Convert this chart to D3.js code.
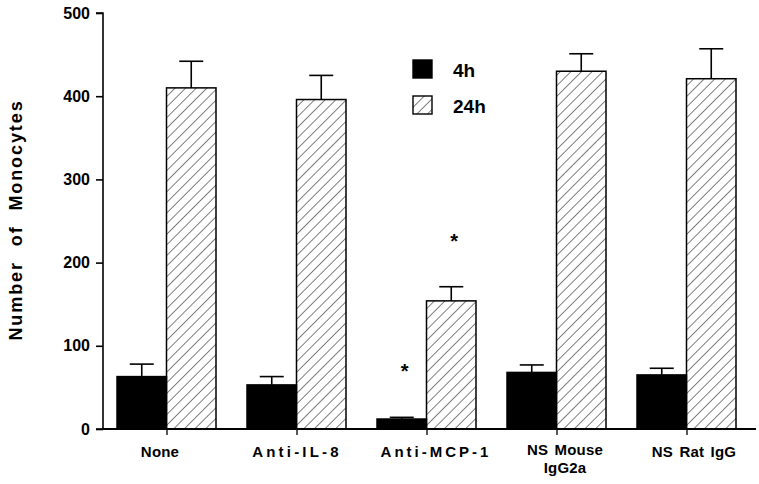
<!DOCTYPE html>
<html>
<head>
<meta charset="utf-8">
<script src="https://cdn.jsdelivr.net/npm/d3@7"></script>
<style>
  body { margin: 0; background: #fff; }
  text { font-family: "Liberation Sans", Arial, sans-serif; font-weight: bold; fill: #000; }
</style>
</head>
<body>
<svg id="chart" width="759" height="484"></svg>
<script>
// values
const groups = ['None', 'Anti-IL-8', 'Anti-MCP-1', 'NS Mouse|IgG2a', 'NS Rat IgG'];
const series = ['4h', '24h'];
const means4h = [63, 53, 12, 68, 65];
const errs4h = [15, 10, 2, 9, 8];
const means24h = [410, 396, 154, 430, 421];
const errs24h = [32, 29, 17, 21, 36];
const starred = [[2, '4h'], [2, '24h']];
const yTicks = [0, 100, 200, 300, 400, 500];

// layout only: the labels sit a little off the tick in the original
const labelNudge = [-7, 0, 9, 8, 7];

const svg = d3.select('#chart');
const m = {left: 103, top: 13, bottom: 429};

const y = d3.scaleLinear().domain([0, 500]).range([m.bottom, m.top]);
const x = d3.scaleBand().domain(groups).range([102, 752]);
// black bar left of the group tick, hatched bar right of it
const inner = d3.scaleBand().domain(series).range([-50, 49]);

const mid = g => x(g) + x.bandwidth() / 2;

const defs = svg.append('defs');
defs.append('pattern')
    .attr('id', 'hatch')
    .attr('patternUnits', 'userSpaceOnUse')
    .attr('width', 7.5).attr('height', 7.5)
    .attr('patternTransform', 'rotate(45)')
  .append('line')
    .attr('x1', 0).attr('y1', 0).attr('x2', 0).attr('y2', 7.5)
    .attr('stroke', '#000').attr('stroke-width', 1);

const rows = groups.map((g, i) => ({
    g, i,
    vals: [
        {s: '4h', v: means4h[i], e: errs4h[i]},
        {s: '24h', v: means24h[i], e: errs24h[i]}
    ]
}));

const gs = svg.append('g').selectAll('g')
    .data(rows)
    .enter().append('g')
    .attr('transform', d => `translate(${mid(d.g)},0)`);

const bars = gs.selectAll('g.bar')
    .data(d => d.vals)
    .enter().append('g').attr('class', 'bar');

const cx = d => inner(d.s) + inner.bandwidth() / 2;

// upper error bars
bars.append('line')
    .attr('x1', cx).attr('x2', cx)
    .attr('y1', d => y(d.v))
    .attr('y2', d => y(d.v + d.e))
    .attr('stroke', '#000').attr('stroke-width', 1.6);
bars.append('line')
    .attr('x1', d => cx(d) - 12)
    .attr('x2', d => cx(d) + 12)
    .attr('y1', d => y(d.v + d.e))
    .attr('y2', d => y(d.v + d.e))
    .attr('stroke', '#000').attr('stroke-width', 1.6);

bars.append('rect')
    .attr('x', d => inner(d.s))
    .attr('width', inner.bandwidth())
    .attr('y', d => y(d.v))
    .attr('height', d => y(0) - y(d.v))
    .attr('fill', d => d.s === '4h' ? '#000' : 'url(#hatch)')
    .attr('stroke', '#000').attr('stroke-width', 1.5);

// significance stars
svg.append('g').selectAll('text')
    .data(starred)
    .enter().append('text')
    .attr('x', d => mid(groups[d[0]]) + inner(d[1]) + inner.bandwidth() / 2 + 3)
    .attr('y', d => {
        const v = d[1] === '4h' ? means4h[d[0]] + errs4h[d[0]] : means24h[d[0]] + errs24h[d[0]];
        return y(v) - 39;
    })
    .attr('text-anchor', 'middle')
    .attr('font-size', 20)
    .text('*');

// y axis
const yAxis = svg.append('g')
    .attr('transform', `translate(${m.left},0)`)
    .call(d3.axisLeft(y).tickValues(yTicks).tickSize(7).tickPadding(6));
yAxis.select('.domain').attr('stroke-width', 1.6).attr('d', `M-7,${y(500)}H0V${y(0)}H-7`);
yAxis.selectAll('.tick line').attr('stroke-width', 1.6);
yAxis.selectAll('.tick text')
    .attr('font-size', 16)
    .attr('font-family', '"Liberation Sans", Arial, sans-serif')
    .attr('font-weight', 'bold');

// x axis line
svg.append('line')
    .attr('x1', m.left).attr('x2', 756)
    .attr('y1', y(0)).attr('y2', y(0))
    .attr('stroke', '#000').attr('stroke-width', 1.8);

// small ticks at each group
svg.append('g').selectAll('line')
    .data(groups)
    .enter().append('line')
    .attr('x1', mid).attr('x2', mid)
    .attr('y1', y(0)).attr('y2', y(0) + 6)
    .attr('stroke', '#000').attr('stroke-width', 1.3);

// x labels
const spaced = {'Anti-IL-8': 3.2, 'Anti-MCP-1': 3};
svg.append('g').selectAll('text')
    .data(groups)
    .enter().append('text')
    .attr('y', g => g.includes('|') ? 455 : 457)
    .attr('text-anchor', 'middle')
    .attr('font-size', 15)
    .attr('letter-spacing', g => spaced[g] || 0.2)
    .attr('word-spacing', 2)
    .each(function(g, i) {
        d3.select(this).selectAll('tspan')
            .data(g.split('|'))
            .enter().append('tspan')
            .attr('x', mid(g) + labelNudge[i])
            .attr('dy', (p, j) => j ? 18 : 0)
            .text(p => p);
    });

// y label
svg.append('text')
    .attr('transform', 'translate(22,220) rotate(-90)')
    .attr('text-anchor', 'middle')
    .attr('font-size', 18)
    .attr('letter-spacing', 1.9)
    .attr('word-spacing', 8)
    .text('Number of Monocytes');

// legend
const legend = svg.append('g').selectAll('g')
    .data(series)
    .enter().append('g')
    .attr('transform', (s, i) => `translate(413,${60 + i * 36})`);
legend.append('rect')
    .attr('width', 19).attr('height', 18)
    .attr('fill', s => s === '4h' ? '#000' : 'url(#hatch)')
    .attr('stroke', '#000').attr('stroke-width', 1.4);
legend.append('text')
    .attr('x', 40).attr('y', 17)
    .attr('font-size', 19)
    .text(s => s);
</script>
</body>
</html>
